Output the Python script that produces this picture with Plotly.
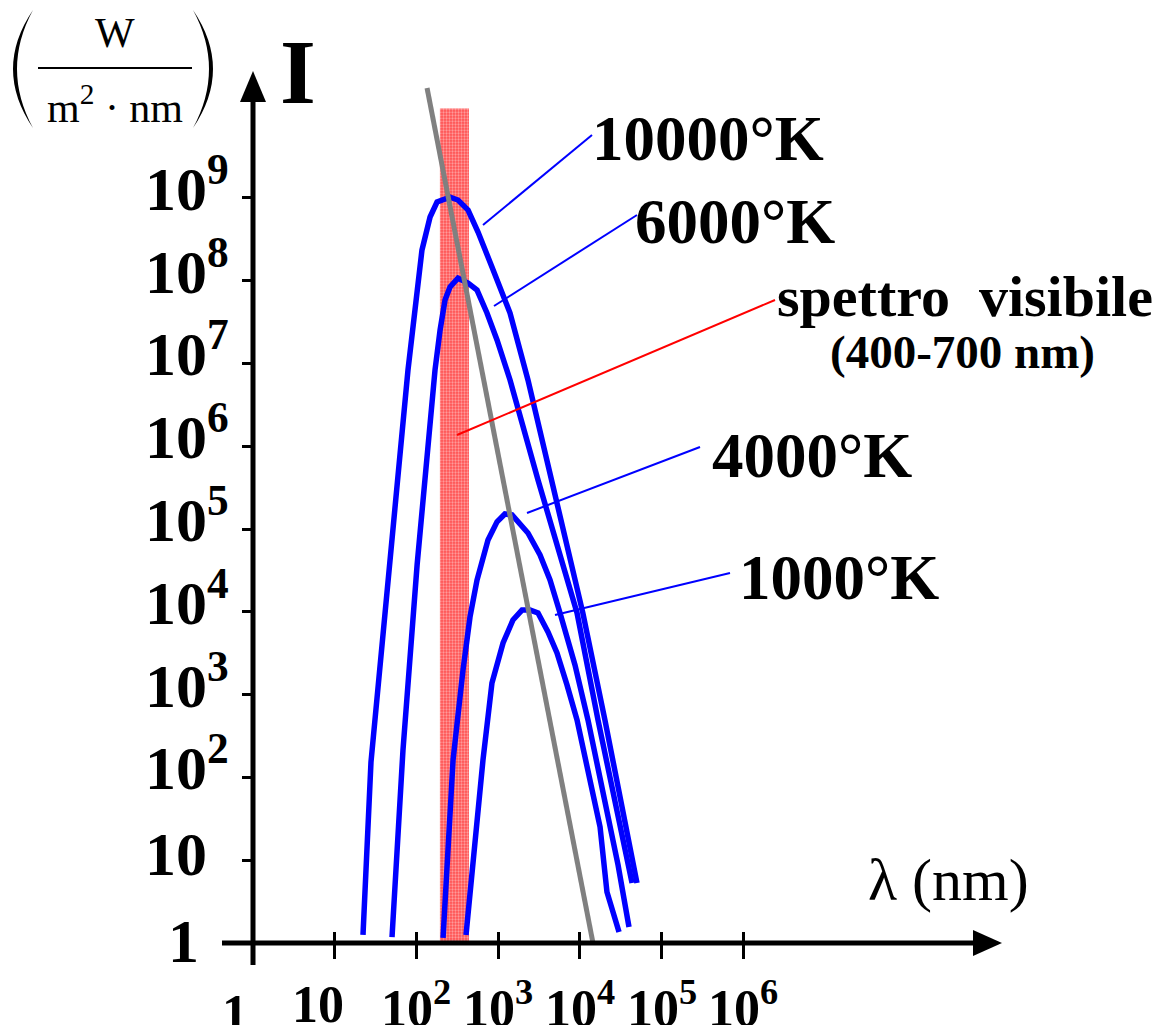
import math
import plotly.graph_objects as go

# ---------------- data ----------------
# wavelength in nm, intensity in W/(m^2 nm)
wl_10000 = [22.2, 27.8, 78.9, 117, 147, 179, 258, 323, 429, 568, 841, 1400, 2320, 4570, 10900, 20300, 50100]
I_10000 = [1.25, 153, 8.32e6, 2.34e8, 5.86e8, 8.9e8, 1.02e9, 9.4e8, 7.12e8, 3.86e8, 1.46e8, 4.06e7, 6.31e6, 3.91e5, 9680, 493, 5.31]

wl_6000 = [50.3, 68.5, 102, 169, 195, 224, 258, 323, 429, 552, 731, 970, 1400, 3080, 9250, 16700, 43600]
I_6000 = [1.18, 214, 3.67e4, 8.32e6, 2.53e7, 5.83e7, 8.37e7, 1.07e8, 9.35e7, 7.69e7, 4.06e7, 1.92e7, 6.31e6, 3.91e5, 9680, 493, 5.31]

wl_4000 = [212, 281, 372, 453, 552, 752, 970, 1210, 1480, 2320, 3260, 4320, 5730, 8730, 12600, 20300, 29400, 40000]
I_4000 = [1.15, 162, 1980, 8650, 2.42e4, 7.36e4, 1.22e5, 1.52e5, 1.48e5, 8.95e4, 4.85e4, 2.42e4, 9680, 2280, 493, 53.3, 8.75, 1.56]

wl_1000 = [405, 653, 841, 1150, 1520, 1960, 2460, 3080, 4080, 5260, 6970, 9250, 17700, 21500, 30200]
I_1000 = [1.25, 162, 1380, 4200, 7960, 1.05e4, 1.05e4, 9680, 5700, 3180, 1310, 493, 25.2, 4.13, 1.36]

wien_wl = [135, 14500]
wien_I = [2.12e10, 1]

visible_wl = [194, 440]
visible_I = [1, 1.2e10]

curve_labels = ["10000°K", "6000°K", "4000°K", "1000°K"]
band_label = "spettro&nbsp;&nbsp;visibile"
band_sub = "(400-700 nm)"

x_tick_vals = [1, 10, 100, 1e3, 1e4, 1e5, 1e6]
x_tick_text = ["1", "10", "10<sup>2</sup>", "10<sup>3</sup>", "10<sup>4</sup>", "10<sup>5</sup>", "10<sup>6</sup>"]
y_tick_vals = [1, 10, 100, 1e3, 1e4, 1e5, 1e6, 1e7, 1e8, 1e9]
y_tick_text = ["1", "10", "10<sup>2</sup>", "10<sup>3</sup>", "10<sup>4</sup>", "10<sup>5</sup>",
               "10<sup>6</sup>", "10<sup>7</sup>", "10<sup>8</sup>", "10<sup>9</sup>"]

# ---------------- layout geometry ----------------
W, H = 1156, 1025
ML, MR, MT, MB = 253, 156, 75, 82
PW, PH = W - ML - MR, H - MT - MB
XDEC, YDEC = 81.7, 82.8  # pixels per decade
SERIF = "Liberation Serif, Times New Roman, serif"
BLUE = "#0000ff"


def px(x):
    return (x - ML) / PW


def py(y):
    return (H - MB - y) / PH


fig = go.Figure()

# visible band
fig.add_trace(go.Scatter(
    x=[visible_wl[0], visible_wl[1], visible_wl[1], visible_wl[0], visible_wl[0]],
    y=[visible_I[0], visible_I[0], visible_I[1], visible_I[1], visible_I[0]],
    mode="lines", fill="toself", line=dict(width=0, color="rgba(0,0,0,0)"),
    fillcolor="#ff7070",
    fillpattern=dict(shape=".", bgcolor="#ff5050", fgcolor="#ffe4e4", size=3, solidity=0.45),
    hoverinfo="skip", showlegend=False))

for wl, I in [(wl_10000, I_10000), (wl_6000, I_6000), (wl_4000, I_4000), (wl_1000, I_1000)]:
    fig.add_trace(go.Scatter(x=wl, y=I, mode="lines",
                             line=dict(color=BLUE, width=5.5), showlegend=False))

fig.add_trace(go.Scatter(x=wien_wl, y=wien_I, mode="lines",
                         line=dict(color="#808080", width=5), showlegend=False))

# overlay axis for the upper half of crossing x ticks
fig.add_trace(go.Scatter(x=[], y=[], xaxis="x2", showlegend=False))

shapes = []
# axes lines
shapes.append(dict(type="line", xref="paper", yref="paper", x0=px(253), x1=px(253), y0=py(965), y1=py(98),
                   line=dict(color="black", width=5)))
shapes.append(dict(type="line", xref="paper", yref="paper", x0=px(222), x1=px(978), y0=py(943), y1=py(943),
                   line=dict(color="black", width=5)))
# arrow heads
shapes.append(dict(type="path", xref="paper", yref="paper",
                   path=f"M {px(253)} {py(71)} L {px(240)} {py(102)} L {px(266)} {py(102)} Z",
                   fillcolor="black", line=dict(width=0)))
shapes.append(dict(type="path", xref="paper", yref="paper",
                   path=f"M {px(1002)} {py(943)} L {px(973)} {py(930)} L {px(973)} {py(956)} Z",
                   fillcolor="black", line=dict(width=0)))
# fraction bar & parentheses of unit
shapes.append(dict(type="line", xref="paper", yref="paper", x0=px(38), x1=px(192), y0=py(68), y1=py(68),
                   line=dict(color="black", width=2)))
shapes.append(dict(type="path", xref="paper", yref="paper",
                   path=f"M {px(33)} {py(10)} Q {px(-7)} {py(69)} {px(33)} {py(128)} Q {px(1)} {py(69)} {px(33)} {py(10)} Z",
                   fillcolor="black", line=dict(width=0)))
shapes.append(dict(type="path", xref="paper", yref="paper",
                   path=f"M {px(193)} {py(10)} Q {px(233)} {py(69)} {px(193)} {py(128)} Q {px(225)} {py(69)} {px(193)} {py(10)} Z",
                   fillcolor="black", line=dict(width=0)))
# leader lines
leaders = [((483, 225), (592, 135), BLUE), ((494, 306), (637, 215), BLUE),
           ((457, 435), (775, 300), "#ff0000"), ((527, 513), (700, 447), BLUE),
           ((555, 615), (730, 573), BLUE)]
for (a, b, c) in leaders:
    shapes.append(dict(type="line", xref="paper", yref="paper", x0=px(a[0]), y0=py(a[1]),
                       x1=px(b[0]), y1=py(b[1]), line=dict(color=c, width=2)))

ann = []
bold = dict(family=SERIF, color="black", weight="bold")
# y tick labels
for v, t in zip(y_tick_vals, y_tick_text):
    e = math.log10(v)
    ys = 14 if "sup" in t else (6 if v == 10 else 2)
    ann.append(dict(x=px(143) if v != 1 else px(166), xref="paper", y=e, yref="y", text=t, showarrow=False,
                    xanchor="left", yanchor="middle", yshift=ys,
                    font=dict(size=62, **bold)))
# x tick labels
for v, t in zip(x_tick_vals, x_tick_text):
    e = math.log10(v)
    shift = {1: -18, 10: -17}.get(v, 0)
    yy = 1014 if v == 1 else 1004
    ann.append(dict(x=e, xref="x", xshift=shift, y=py(yy), yref="paper", text=t, showarrow=False,
                    xanchor="center", yanchor="middle", font=dict(size=52, **bold)))
# axis titles
ann.append(dict(x=px(298), y=py(72), xref="paper", yref="paper", text="I", showarrow=False,
                xanchor="center", yanchor="middle", font=dict(size=92, **bold)))
ann.append(dict(x=px(115), y=py(33), xref="paper", yref="paper", text="W", showarrow=False,
                xanchor="center", yanchor="middle", font=dict(size=42, family=SERIF, color="black")))
ann.append(dict(x=px(115), y=py(104), xref="paper", yref="paper", text="m<sup>2</sup> · nm", showarrow=False,
                xanchor="center", yanchor="middle", font=dict(size=42, family=SERIF, color="black")))
ann.append(dict(x=px(866), y=py(880), xref="paper", yref="paper", text="λ (nm)", showarrow=False,
                xanchor="left", yanchor="middle", font=dict(size=60, family=SERIF, color="black")))
# curve labels
label_pos = [(590, 139), (633, 222), (710, 456), (737, 578)]
for t, (lx, ly) in zip(curve_labels, label_pos):
    ann.append(dict(x=px(lx), y=py(ly), xref="paper", yref="paper", text=t, showarrow=False,
                    xanchor="left", yanchor="middle", font=dict(size=63, **bold)))
ann.append(dict(x=px(775), y=py(297), xref="paper", yref="paper", text=band_label, showarrow=False,
                xanchor="left", yanchor="middle", font=dict(size=58, **bold)))
ann.append(dict(x=px(962), y=py(352), xref="paper", yref="paper", text=band_sub, showarrow=False,
                xanchor="center", yanchor="middle", font=dict(size=47, **bold)))

fig.update_layout(
    width=W, height=H, margin=dict(l=ML, r=MR, t=MT, b=MB, pad=0),
    paper_bgcolor="white", plot_bgcolor="white",
    xaxis=dict(type="log", range=[0, PW / XDEC], showgrid=False, zeroline=False, showline=False,
               tickmode="array", tickvals=x_tick_vals[1:], ticks="outside", ticklen=15, tickwidth=2.5,
               tickcolor="black", showticklabels=False),
    xaxis2=dict(type="log", range=[0, PW / XDEC], overlaying="x", anchor="y", side="bottom",
                showgrid=False, zeroline=False, showline=False,
                tickmode="array", tickvals=x_tick_vals[1:], ticks="inside", ticklen=11, tickwidth=2.5,
                tickcolor="black", showticklabels=False),
    yaxis=dict(type="log", range=[0, PH / YDEC], showgrid=False, zeroline=False, showline=False,
               tickmode="array", tickvals=y_tick_vals[1:], ticks="outside", ticklen=10, tickwidth=2.5,
               tickcolor="black", showticklabels=False),
    shapes=shapes, annotations=ann, showlegend=False,
)

fig.write_html("out.html", config={"displayModeBar": False},
               post_script="document.body.style.margin='0px';document.body.style.overflow='hidden';")
